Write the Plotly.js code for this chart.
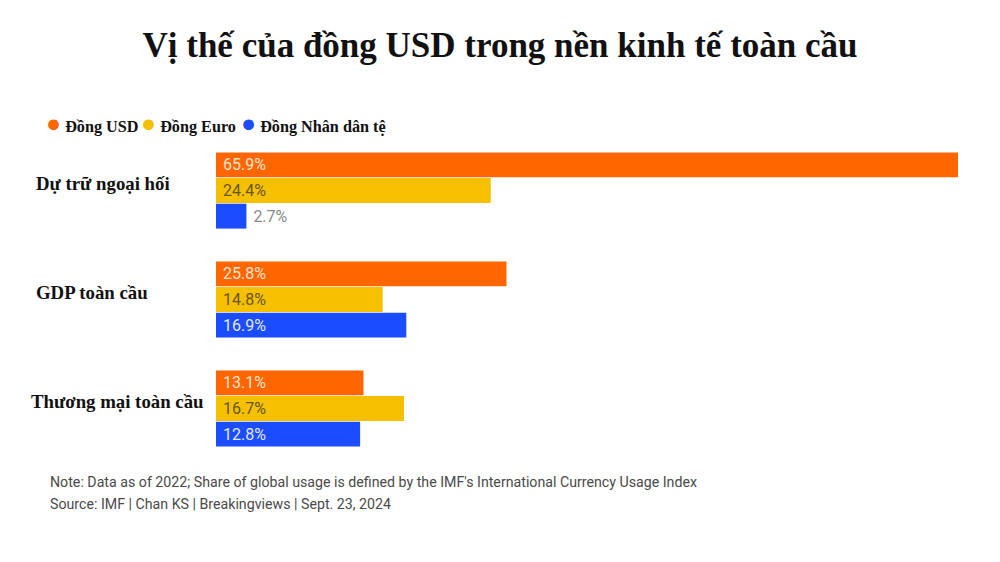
<!DOCTYPE html>
<html>
<head>
<meta charset="utf-8">
<script src="https://cdn.plot.ly/plotly-3.0.1.min.js"></script>
<style>html,body{margin:0;padding:0;background:#fff;}#chart{width:1000px;height:562px;}</style>
</head>
<body>
<div id="chart"></div>
<script>
const categories = ["Dự trữ ngoại hối", "GDP toàn cầu", "Thương mại toàn cầu"];
const seriesNames = ["Đồng USD", "Đồng Euro", "Đồng Nhân dân tệ"];
const usdValues = [65.9, 25.8, 13.1];
const euroValues = [24.4, 14.8, 16.7];
const cnyValues = [2.7, 16.9, 12.8];

const colors = ["#ff6600", "#f4c000", "#1b4dff"];
const insideTextColors = ["#ffe2cc", "#6b5518", "#e0e6ff"];
const allValues = [usdValues, euroValues, cnyValues];

const traces = allValues.map((vals, i) => ({
  type: "bar",
  orientation: "h",
  name: seriesNames[i],
  y: categories,
  x: vals,
  text: vals.map(v => " " + v.toFixed(1) + "%"),
  textposition: "auto",
  insidetextanchor: "start",
  constraintext: "none",
  insidetextfont: {family: "Roboto, sans-serif", size: 16, color: insideTextColors[i]},
  outsidetextfont: {family: "Roboto, sans-serif", size: 16, color: "#8a8a8a"},
  marker: {color: colors[i], line: {width: 0}},
  showlegend: false,
  hoverinfo: "skip",
  cliponaxis: false
}));

const labelX = [34, 34, 29];
const annotations = [];
categories.forEach((c, i) => {
  annotations.push({
    xref: "paper", yref: "y", x: (labelX[i] - 216) / 742, y: c,
    xanchor: "left", yanchor: "middle", yshift: 7,
    text: "<b>" + c + "</b>", showarrow: false,
    font: {family: "Liberation Serif, serif", size: 18.8, color: "#111"}
  });
});
const legendX = [44, 139, 239];
seriesNames.forEach((n, i) => {
  annotations.push({
    xref: "paper", yref: "paper", x: (legendX[i] - 216) / 742, y: 1 + (136 - 123) / 327,
    xanchor: "left", yanchor: "middle",
    text: '<span style="color:' + colors[i] + '; font-size:25px">●</span> <b>' + n + '</b>',
    showarrow: false,
    font: {family: "Liberation Serif, serif", size: 16.2, color: "#111"}
  });
});
annotations.push({
  xref: "paper", yref: "paper", x: (48 - 216) / 742, y: -(482 - 463) / 327,
  xanchor: "left", yanchor: "middle",
  text: "Note: Data as of 2022; Share of global usage is defined by the IMF's International Currency Usage Index",
  showarrow: false, font: {family: "Roboto, sans-serif", size: 14.2, color: "#4a4a4a"}
});
annotations.push({
  xref: "paper", yref: "paper", x: (48 - 216) / 742, y: -(504 - 463) / 327,
  xanchor: "left", yanchor: "middle",
  text: "Source: IMF | Chan KS | Breakingviews | Sept. 23, 2024",
  showarrow: false, font: {family: "Roboto, sans-serif", size: 14.2, color: "#4a4a4a"}
});

const layout = {
  width: 1000, height: 562,
  paper_bgcolor: "#fff", plot_bgcolor: "#fff",
  margin: {l: 216, r: 42, t: 136, b: 99},
  title: {
    text: "<b>Vị thế của đồng USD trong nền kinh tế toàn cầu</b>",
    x: 0.5, xanchor: "center", y: 1 - 45 / 562, yanchor: "middle", yref: "container",
    font: {family: "Liberation Serif, serif", size: 35, color: "#111"}
  },
  barmode: "group",
  bargap: 0.294,
  bargroupgap: 0.03,
  xaxis: {range: [0, 65.9], visible: false, fixedrange: true},
  yaxis: {range: [2.5, -0.5], visible: false, type: "category", fixedrange: true},
  annotations: annotations,
  showlegend: false
};

Plotly.newPlot("chart", traces, layout, {displayModeBar: false, staticPlot: true});
</script>
</body>
</html>
